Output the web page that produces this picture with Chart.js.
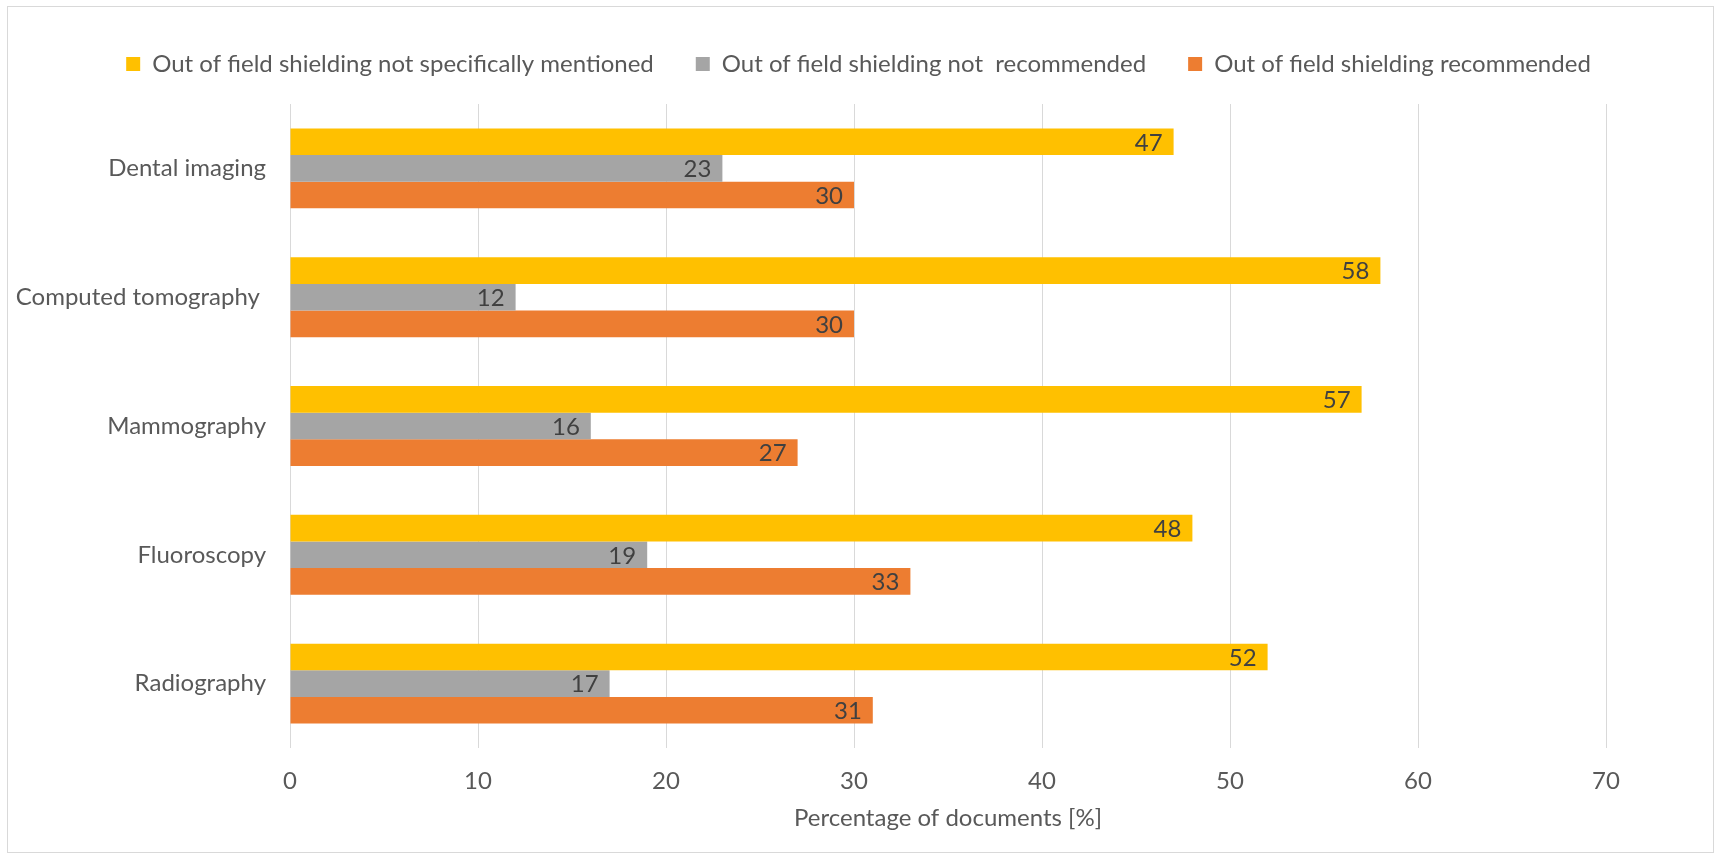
<!DOCTYPE html>
<html lang="en">
<head>
<meta charset="UTF-8">
<title>Out of field shielding</title>
<style>
    html, body { margin: 0; padding: 0; background: #ffffff; }
    .chart-box { width: 1717px; height: 856px; position: relative; }
</style>
</head>
<body>
<div class="chart-box">
    <canvas id="chartBar"></canvas>
</div>

<script src="https://cdn.jsdelivr.net/npm/chart.js"></script>
<script>
const categories = ['Dental imaging', 'Computed tomography ', 'Mammography', 'Fluoroscopy', 'Radiography']

const seriesNames = [
    'Out of field shielding not specifically mentioned',
    'Out of field shielding not  recommended',
    'Out of field shielding recommended'
]
const notMentioned = [47, 58, 57, 48, 52]
const notRecommended = [23, 12, 16, 19, 17]
const recommended = [30, 30, 27, 33, 31]

const xTicks = [0, 10, 20, 30, 40, 50, 60, 70]
const xTitle = 'Percentage of documents [%]'

const seriesColors = ['#FFC000', '#A5A5A5', '#ED7D31']

const FONT = 'Lato'
const textGrey = '#595959'

// value printed just inside the end of every bar
const barValues = {
    id: 'barValues',
    afterDatasetsDraw(chart) {
        const ctx = chart.ctx
        ctx.save()
        ctx.font = '24px ' + FONT
        ctx.fillStyle = '#404040'
        ctx.textAlign = 'right'
        ctx.textBaseline = 'middle'
        chart.data.datasets.forEach((ds, i) => {
            chart.getDatasetMeta(i).data.forEach((bar, j) => {
                ctx.fillText(ds.data[j], bar.x - 11, bar.y + 1)
            })
        })
        ctx.restore()
    }
}

// white background + thin frame round the whole chart
const frame = {
    id: 'frame',
    beforeDraw(chart) {
        const ctx = chart.ctx
        ctx.save()
        ctx.fillStyle = '#ffffff'
        ctx.fillRect(0, 0, chart.width, chart.height)
        ctx.strokeStyle = '#d9d9d9'
        ctx.lineWidth = 1
        ctx.strokeRect(7.5, 6.5, chart.width - 11, chart.height - 10)
        ctx.restore()
    }
}

// more room under the legend, and keep it centred on the whole canvas
const legendGap = {
    id: 'legendGap',
    beforeInit(chart) {
        const fit = chart.legend.fit
        chart.legend.fit = function () {
            fit.call(this)
            this.height += 18
        }
    },
    afterLayout(chart) {
        chart.legend.left = 0
        chart.legend.right = chart.width
    }
}

const data = {
    labels: categories,
    datasets: [
        { label: seriesNames[0], data: notMentioned, backgroundColor: seriesColors[0] },
        { label: seriesNames[1], data: notRecommended, backgroundColor: seriesColors[1] },
        { label: seriesNames[2], data: recommended, backgroundColor: seriesColors[2] }
    ]
}

const config = {
    type: 'bar',
    data: data,
    options: {
        indexAxis: 'y',
        responsive: true,
        maintainAspectRatio: false,
        animation: false,
        datasets: {
            bar: { categoryPercentage: 0.62, barPercentage: 1.0, borderWidth: 0 }
        },
        layout: { padding: { top: 10, left: 0, right: 111, bottom: 0 } },
        scales: {
            x: {
                min: 0,
                max: 70,
                afterBuildTicks(scale) {
                    scale.ticks = xTicks.map(v => ({ value: v }))
                },
                afterFit(scale) { scale.height = 108 },
                grid: { color: '#d9d9d9', drawTicks: false },
                border: { display: false },
                ticks: { color: textGrey, font: { family: FONT, size: 24 }, padding: 19 },
                title: {
                    display: true,
                    text: xTitle,
                    color: textGrey,
                    font: { family: FONT, size: 24 },
                    padding: { top: 0, bottom: 23 }
                }
            },
            y: {
                afterFit(scale) { scale.width = 290 },
                grid: { display: false, drawTicks: false },
                border: { display: false },
                ticks: { color: textGrey, font: { family: FONT, size: 24 }, padding: 24 }
            }
        },
        plugins: {
            legend: {
                position: 'top',
                labels: {
                    color: textGrey,
                    font: { family: FONT, size: 24 },
                    boxWidth: 14,
                    boxHeight: 14,
                    padding: 42
                }
            },
            tooltip: { enabled: false }
        }
    },
    plugins: [barValues, frame, legendGap]
}

new Chart(document.getElementById('chartBar'), config)
</script>
</body>
</html>
